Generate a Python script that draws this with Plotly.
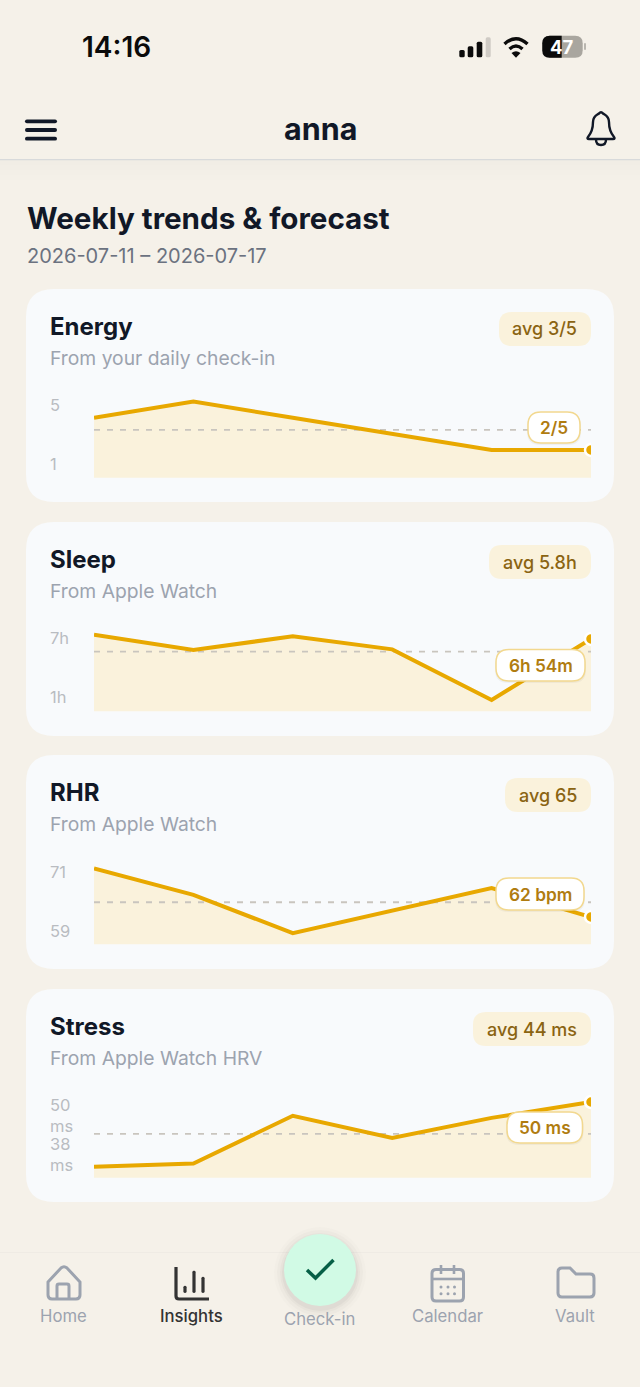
import plotly.graph_objects as go

W, H = 640, 1387
FONT = "Inter"

BG = "#F5F1E9"
CARD = "#F8FAFC"
INK = "#111827"
GRAY = "#9CA3AF"
LINE = "#E8A800"
FILL = "#FAF2DC"
DASH = "#C9C5BE"
PILL_TEXT = "#8A6412"
BADGE_TEXT = "#B07C10"
BADGE_EDGE = "#F2D88F"

days = [0, 1, 2, 3, 4, 5]

energy = [4.0, 5.0, 4.0, 3.0, 2.0, 2.0]
sleep = [7.27, 5.95, 7.13, 6.0, 1.62, 6.9]
rhr = [71.9, 66.5, 58.7, 63.2, 67.9, 62.0]
stress = [37.8, 38.4, 47.4, 43.2, 47.0, 50.0]

averages = [3.25, 5.8, 65.0, 44.0]
titles = ["Energy", "Sleep", "RHR", "Stress"]
subtitles = ["From your daily check-in", "From Apple Watch", "From Apple Watch", "From Apple Watch HRV"]
avg_labels = ["avg 3/5", "avg 5.8h", "avg 65", "avg 44 ms"]
now_labels = ["2/5", "6h 54m", "62 bpm", "50 ms"]
hi_labels = ["5", "7h", "71", "50<br>ms"]
lo_labels = ["1", "1h", "59", "38<br>ms"]
y_ranges = [[0.28, 5.35], [0.64, 7.85], [56.43, 73.2], [35.72, 51.32]]

series = [energy, sleep, rhr, stress]

# pixel layout of each card
card_boxes = [(289, 502), (522, 736), (755, 969), (989, 1202)]
plot_boxes = [(396, 477.7), (628, 711.3), (862, 944.3), (1095, 1177.7)]
pill_lefts = [499, 489, 505, 473]
badge_boxes = [(528, 580, 412, 443), (496, 585, 649.5, 681), (496, 584, 878, 910), (507, 582.5, 1112, 1143)]
hi_ys = [405, 638, 872, 1115]
lo_ys = [464, 697, 930.7, 1154.5]


def px(x, y):
    return f"{x / W:.5f} {1 - y / H:.5f}"


def path(*cmds):
    # cmds are letters and pixel pairs, e.g. "M", (1, 2), "L", (3, 4)
    out = []
    for c in cmds:
        out.append(c if isinstance(c, str) else px(*c))
    return " ".join(out)


def rrect(x0, y0, x1, y1, r):
    return path("M", (x0 + r, y0), "L", (x1 - r, y0), "Q", (x1, y0), (x1, y0 + r),
                "L", (x1, y1 - r), "Q", (x1, y1), (x1 - r, y1),
                "L", (x0 + r, y1), "Q", (x0, y1), (x0, y1 - r),
                "L", (x0, y0 + r), "Q", (x0, y0), (x0 + r, y0), "Z")


shapes = []


def add_fill(d, color, layer="below", edge=None, width=0, opacity=1):
    shapes.append(dict(type="path", path=d, xref="paper", yref="paper", fillcolor=color, layer=layer,
                       opacity=opacity, line=dict(color=edge or "rgba(0,0,0,0)", width=width)))


def add_stroke(d, color, width, layer="below"):
    shapes.append(dict(type="path", path=d, xref="paper", yref="paper", fillcolor="rgba(0,0,0,0)",
                       layer=layer, line=dict(color=color, width=width)))


def add_circle(cx, cy, rx, ry, color, opacity=1):
    shapes.append(dict(type="circle", xref="paper", yref="paper", x0=(cx - rx) / W, x1=(cx + rx) / W,
                       y0=1 - (cy + ry) / H, y1=1 - (cy - ry) / H, fillcolor=color, opacity=opacity,
                       layer="below", line=dict(width=0)))


annotations = []


def add_text(x, y, text, size, color, weight=400, anchor="left"):
    annotations.append(dict(x=x / W, y=1 - y / H, xref="paper", yref="paper", text=text, showarrow=False,
                            xanchor=anchor, yanchor="middle", align=anchor, borderpad=0, borderwidth=0,
                            font=dict(family=FONT, size=size, color=color, weight=weight)))


fig = go.Figure()

for i, vals in enumerate(series):
    suffix = "" if i == 0 else str(i + 1)
    top, bottom = plot_boxes[i]
    xa, ya = f"x{suffix}", f"y{suffix}"
    fig.add_trace(go.Scatter(x=days, y=vals, mode="none", fill="tozeroy", fillcolor=FILL, xaxis=xa, yaxis=ya))
    fig.add_trace(go.Scatter(x=[days[0], days[-1]], y=[averages[i]] * 2, mode="lines",
                             line=dict(color=DASH, width=1.8, dash="6px,7px"), xaxis=xa, yaxis=ya))
    fig.add_trace(go.Scatter(x=days, y=vals, mode="lines", line=dict(color=LINE, width=4),
                             xaxis=xa, yaxis=ya))
    fig.add_trace(go.Scatter(x=days[-1:], y=vals[-1:], mode="markers",
                             marker=dict(color=LINE, size=12, line=dict(color="#FFFFFF", width=2.5)),
                             xaxis=xa, yaxis=ya))
    fig.update_layout({
        f"xaxis{suffix}": dict(domain=[94 / W, 591 / W], range=[days[0], days[-1]], visible=False, fixedrange=True),
        f"yaxis{suffix}": dict(domain=[1 - bottom / H, 1 - top / H], range=y_ranges[i], visible=False,
                               fixedrange=True),
    })

    # card, title, pill
    c0, c1 = card_boxes[i]
    add_fill(rrect(26, c0, 614, c1, 28), CARD)
    add_text(49.5, c0 + 37.5, titles[i], 24, INK, 700)
    add_text(49.5, c0 + 69, subtitles[i], 19.3, GRAY)
    add_fill(rrect(pill_lefts[i], c0 + 23, 591, c0 + 57, 13), FILL)
    add_text(577, c0 + 40, avg_labels[i], 18, PILL_TEXT, 500, anchor="right")

    # y labels
    add_text(49.5, hi_ys[i], hi_labels[i], 16.5, "#B9BCC1")
    add_text(49.5, lo_ys[i], lo_labels[i], 16.5, "#B9BCC1")

    # current value badge
    bx0, bx1, by0, by1 = badge_boxes[i]
    add_fill(rrect(bx0 - 1, by0 + 1, bx1 + 1, by1 + 2, 13), "#000000", layer="above", opacity=0.04)
    add_fill(rrect(bx0, by0, bx1, by1, 13), "#FFFFFF", layer="above", edge=BADGE_EDGE, width=1.5)
    add_text((bx0 + bx1) / 2, (by0 + by1) / 2, now_labels[i], 17.3, BADGE_TEXT, 600, anchor="center")

# status bar
add_text(116.5, 47, "14:16", 28, "#0B0B0B", 600, anchor="center")
for x0, x1, y0, col in [(459.3, 464.7, 50, "#0B0B0B"), (467.7, 473.3, 46.3, "#0B0B0B"),
                        (476.7, 482.3, 41.7, "#0B0B0B"), (485.7, 490.7, 37.3, "#CFCBC5")]:
    add_fill(rrect(x0, y0, x1, 57.3, 1.6), col)
add_stroke(path("M", (504.5, 44), "Q", (516, 33.5), (527.5, 44)), "#0B0B0B", 3.4)
add_stroke(path("M", (509.5, 49), "Q", (516, 43), (522.5, 49)), "#0B0B0B", 3.4)
add_fill(path("M", (511.5, 53), "Q", (516, 49.5), (520.5, 53), "L", (516, 57.8), "Z"), "#0B0B0B")
add_fill(rrect(542.3, 35.7, 582.7, 57.7, 7.5), "#A9A69F")
add_fill(path("M", (549.8, 35.7), "L", (561.7, 35.7), "L", (561.7, 57.7), "L", (549.8, 57.7),
              "Q", (542.3, 57.7), (542.3, 50.2), "L", (542.3, 43.2), "Q", (542.3, 35.7), (549.8, 35.7), "Z"), "#0B0B0B")
add_fill(rrect(584, 43, 586, 50, 1), "#B9B6AF")
add_text(562, 47, "47", 18.5, "#FFFFFF", 700, anchor="center")

# header
for y in [121.3, 130, 138.7]:
    add_fill(rrect(25, y - 1.9, 57, y + 1.9, 1.9), INK)
add_text(320, 128.5, "anna", 30.5, INK, 700, anchor="center")
add_stroke(path("M", (588, 137), "Q", (593, 131), (593, 122), "C", (593, 116), (597, 115), (599, 113.5),
                "Q", (601, 111), (603, 113.5), "C", (605, 115), (609, 116), (609, 122),
                "Q", (609, 131), (614, 137), "Q", (615.5, 139), (613, 139), "L", (589, 139),
                "Q", (586.5, 139), (588, 137), "Z"), INK, 2.4)
add_stroke(path("M", (596, 139.5), "Q", (596, 145), (601, 145), "Q", (606, 145), (606, 139.5)), INK, 2.4)
for y0, a in [(160, 0.014), (165, 0.010), (170, 0.006), (175, 0.003)]:
    add_fill(path("M", (0, y0), "L", (W, y0), "L", (W, y0 + 5), "L", (0, y0 + 5), "Z"), "#000000", opacity=a)
add_fill(path("M", (0, 159), "L", (W, 159), "L", (W, 160.3), "L", (0, 160.3), "Z"), "#D8DADB")

add_text(27, 218, "Weekly trends &amp; forecast", 29.6, INK, 700)
add_text(27, 256, "2026-07-11 – 2026-07-17", 20, "#6B7280")

# bottom nav
add_fill(path("M", (0, 1252), "L", (W, 1252), "L", (W, 1253), "L", (0, 1253), "Z"), "#EFEBE4")
for r, a in [(46, 0.012), (43, 0.018), (40, 0.025), (38, 0.03)]:
    add_circle(320, 1273, r, r, "#000000", a)
add_circle(320, 1270, 36, 36, "#D1FAE5")
add_stroke(path("M", (307, 1270), "L", (315.5, 1278), "L", (333.5, 1260)), "#065F46", 3.5)

add_stroke(path("M", (48, 1282), "L", (61, 1268), "Q", (64, 1265.5), (67, 1268), "L", (80, 1282),
                "L", (80, 1295), "Q", (80, 1299), (76, 1299), "L", (52, 1299),
                "Q", (48, 1299), (48, 1295), "Z"), GRAY, 3)
add_stroke(path("M", (57, 1299), "L", (57, 1286), "Q", (57, 1284), (59, 1284), "L", (67, 1284),
                "Q", (69, 1284), (69, 1286), "L", (69, 1299)), GRAY, 3)

add_stroke(path("M", (176, 1267), "L", (176, 1296), "Q", (176, 1299), (179, 1299), "L", (209, 1299)), "#333333", 3.2)
for x, y0 in [(185, 1285.7), (194, 1270.7), (203, 1276.7)]:
    add_fill(rrect(x - 1.6, y0, x + 1.6, 1293, 1.5), "#333333")

add_stroke(rrect(432, 1269.5, 463.5, 1301, 4), GRAY, 3)
add_stroke(path("M", (432, 1279), "L", (463.5, 1279)), GRAY, 2.6)
add_stroke(path("M", (441, 1265), "L", (441, 1274)), GRAY, 2.6)
add_stroke(path("M", (454, 1265), "L", (454, 1274)), GRAY, 2.6)
for y in [1287, 1293.7]:
    for x in [441, 448, 454.5]:
        add_circle(x, y, 1.5, 1.5, GRAY)

add_stroke(path("M", (558, 1272), "Q", (558, 1268), (562, 1268), "L", (570, 1268), "L", (576, 1274), "L", (590, 1274),
                "Q", (594, 1274), (594, 1278), "L", (594, 1293), "Q", (594, 1297), (590, 1297), "L", (562, 1297),
                "Q", (558, 1297), (558, 1293), "Z"), GRAY, 3)

for x, y, name, col, weight in [(63.5, 1316, "Home", GRAY, 400), (191, 1316, "Insights", "#333333", 500),
                                (319.5, 1319, "Check-in", GRAY, 400), (447, 1316, "Calendar", GRAY, 400),
                                (575, 1316, "Vault", GRAY, 400)]:
    add_text(x, y, name, 16.7, col, weight, anchor="center")

fig.update_layout(
    width=W, height=H, margin=dict(l=0, r=0, t=0, b=0, pad=0), autosize=False,
    paper_bgcolor=BG, plot_bgcolor="rgba(0,0,0,0)", showlegend=False, hovermode=False,
    shapes=shapes, annotations=annotations,
)

fig.write_html("out.html", config={"displayModeBar": False},
               post_script="document.body.style.margin='0';document.body.style.background='%s';" % BG)
